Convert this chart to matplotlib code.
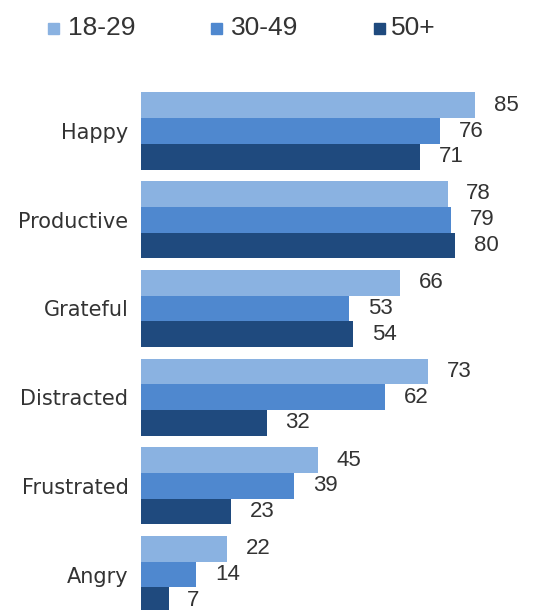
import matplotlib
matplotlib.use("Agg")
import matplotlib.pyplot as plt
from matplotlib.patches import Rectangle
import numpy as np

categories = ["Happy", "Productive", "Grateful", "Distracted", "Frustrated", "Angry"]
age_groups = ["18-29", "30-49", "50+"]
values_18_29 = [85, 78, 66, 73, 45, 22]
values_30_49 = [76, 79, 53, 62, 39, 14]
values_50_plus = [71, 80, 54, 32, 23, 7]
series = [values_18_29, values_30_49, values_50_plus]
colors = ["#8AB2E1", "#4F88CF", "#1F4A7E"]

W, H = 534, 610
fig = plt.figure(figsize=(W / 100, H / 100), dpi=100)

# axes geometry in pixels
left_px, top_px = 141, 85
ax = fig.add_axes([left_px / W, 0, 1 - left_px / W, 1 - top_px / H])

bar_h = 0.29
y = np.arange(len(categories))
for k, (vals, col) in enumerate(zip(series, colors)):
    pos = y + (k - 1) * bar_h
    ax.barh(pos, vals, height=bar_h, color=col, edgecolor="none")
    for p, v in zip(pos, vals):
        ax.annotate(str(v), xy=(v, p), xytext=(13.5, 0), textcoords="offset points",
                    ha="left", va="center", fontsize=16, family="Liberation Sans",
                    color="#333333")

ax.set_xlim(0, (W - left_px) / 3.93)
ax.set_ylim(5.400, -0.5186)
ax.set_yticks(y)
ax.set_yticklabels(categories, fontsize=15, family="DejaVu Sans", color="#333333")
ax.tick_params(axis="y", length=0, pad=9)
ax.set_xticks([])
for s in ax.spines.values():
    s.set_visible(False)

# legend row
sq = 11
leg_y = 28
for (x_sq, x_txt), lab, col in zip([(48, 68), (211, 231), (374, 391)], age_groups, colors):
    fig.patches.append(Rectangle((x_sq / W, 1 - (leg_y + sq / 2) / H), sq / W, sq / H,
                                 transform=fig.transFigure, color=col, figure=fig))
    fig.text(x_txt / W, 1 - leg_y / H, lab, ha="left", va="center", fontsize=19,
             family="Liberation Sans", color="#333333")

fig.savefig("out.png", dpi=100)
